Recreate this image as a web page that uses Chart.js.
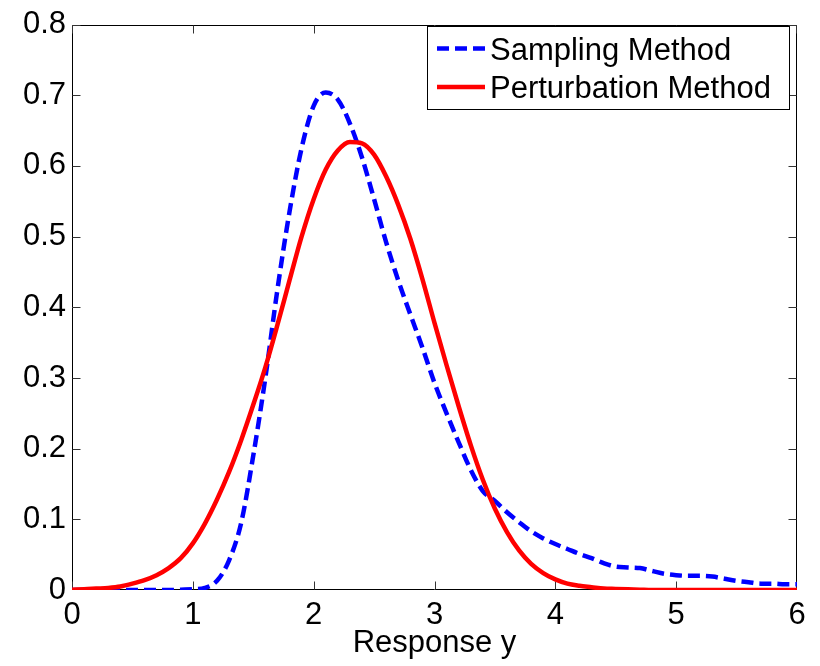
<!DOCTYPE html>
<html><head><meta charset="utf-8">
<script src="https://cdn.jsdelivr.net/npm/chart.js@4/dist/chart.umd.min.js"></script>
<style>html,body{margin:0;padding:0;background:#fff;}#wrap{width:820px;height:666px;}</style>
</head><body><div id="wrap"><canvas id="c" width="820" height="666"></canvas></div>
<script>
const xValues = [0.0,0.1,0.2,0.3,0.4,0.5,0.6,0.7,0.8,0.9,
  1.0,1.1,1.2,1.3,1.4,1.5,1.6,1.7,1.8,1.9,
  2.0,2.1,2.2,2.3,2.4,2.5,2.6,2.7,2.8,2.9,
  3.0,3.1,3.2,3.3,3.4,3.5,3.6,3.7,3.8,3.9,
  4.0,4.1,4.2,4.3,4.4,4.5,4.6,4.7,4.8,4.9,
  5.0,5.1,5.2,5.3,5.4,5.5,5.6,5.7,5.8,5.9,6.0];
const samplingMethod = [0,0,0,0,0,0,0,0,0,0.0005,
  0.001,0.003,0.013,0.042,0.095,0.19,0.30,0.425,0.535,0.625,
  0.685,0.704,0.694,0.66,0.612,0.553,0.492,0.438,0.39,0.343,
  0.293,0.25,0.209,0.17,0.14,0.126,0.11,0.096,0.083,0.073,
  0.065,0.058,0.051,0.045,0.038,0.033,0.032,0.031,0.027,0.023,
  0.021,0.02,0.02,0.019,0.016,0.013,0.011,0.009,0.009,0.008,0.008];
const perturbationMethod = [0.0005,0.001,0.002,0.003,0.005,0.009,0.014,0.021,0.031,0.045,
  0.066,0.094,0.128,0.167,0.212,0.262,0.315,0.375,0.438,0.5,
  0.553,0.595,0.622,0.634,0.632,0.616,0.585,0.545,0.497,0.44,
  0.378,0.318,0.26,0.205,0.156,0.115,0.082,0.056,0.037,0.024,
  0.015,0.009,0.006,0.004,0.002,0.0015,0.001,0.0005,0,0,
  0,0,0,0,0,0,0,0,0,0,0];
const xTicks = [0,1,2,3,4,5,6];
const xTickLabels = ['0','1','2','3','4','5','6'];
const yTicks = [0,0.1,0.2,0.3,0.4,0.5,0.6,0.7,0.8];
const yTickLabels = ['0','0.1','0.2','0.3','0.4','0.5','0.6','0.7','0.8'];
const seriesNames = ['Sampling Method','Perturbation Method'];
const xTitle = 'Response y';

const FONT = '"Liberation Sans", Arial, Helvetica, sans-serif';
const FS = 31;

const framePlugin = {
  id: 'frame',
  beforeDatasetsDraw(chart) {
    const {ctx, chartArea: a, scales} = chart;
    ctx.save();
    ctx.strokeStyle = '#000';
    ctx.lineWidth = 1;
    const L = Math.round(a.left) + 0.5, R = Math.round(a.right) - 0.5;
    const T = Math.round(a.top) + 0.5, B = Math.round(a.bottom) - 0.5;
    ctx.beginPath();
    ctx.rect(L, T, R - L, B - T);
    ctx.stroke();
    ctx.strokeStyle = '#333';
    const tl = 8;
    ctx.beginPath();
    xTicks.forEach(v => {
      const px = Math.min(R, Math.max(L, Math.round(scales.x.getPixelForValue(v)) + 0.5));
      ctx.moveTo(px, B); ctx.lineTo(px, B - tl);
      ctx.moveTo(px, T); ctx.lineTo(px, T + tl);
    });
    yTicks.forEach(v => {
      const py = Math.min(B, Math.max(T, Math.round(scales.y.getPixelForValue(v)) + 0.5));
      ctx.moveTo(L, py); ctx.lineTo(L + tl, py);
      ctx.moveTo(R, py); ctx.lineTo(R - tl, py);
    });
    ctx.stroke();
    ctx.restore();
  },
  afterDraw(chart) {
    const {ctx} = chart;
    ctx.save();
    const bx = 427.5, by = 26.5, bw = 362, bh = 83;
    ctx.fillStyle = '#fff';
    ctx.fillRect(bx, by, bw, bh);
    ctx.strokeStyle = '#000';
    ctx.lineWidth = 1;
    ctx.strokeRect(bx, by, bw, bh);
    const ds = chart.data.datasets;
    const rows = [{i: 1, y: 48.5, base: 59.5}, {i: 0, y: 87, base: 97.5}];
    rows.forEach(r => {
      const d = ds[r.i];
      ctx.beginPath();
      ctx.strokeStyle = d.borderColor;
      ctx.lineWidth = d.borderWidth;
      ctx.setLineDash(d.borderDash || []);
      ctx.moveTo(437, r.y); ctx.lineTo(485, r.y);
      ctx.stroke();
      ctx.setLineDash([]);
      ctx.fillStyle = '#000';
      ctx.font = FS + 'px ' + FONT;
      ctx.textBaseline = 'alphabetic';
      ctx.textAlign = 'left';
      ctx.fillText(d.label, 490, r.base);
    });
    ctx.restore();
  }
};

const pts = arr => xValues.map((x, i) => ({x, y: arr[i]}));

new Chart(document.getElementById('c'), {
  type: 'line',
  data: {
    datasets: [
      {label: seriesNames[1], data: pts(perturbationMethod), borderColor: '#ff0000', borderWidth: 4.5,
       pointRadius: 0, cubicInterpolationMode: 'monotone', fill: false, order: 0},
      {label: seriesNames[0], data: pts(samplingMethod), borderColor: '#0000ff', borderWidth: 4.5,
       borderDash: [12, 6], pointRadius: 0, cubicInterpolationMode: 'monotone', fill: false, order: 1}
    ]
  },
  options: {
    responsive: false,
    animation: false,
    devicePixelRatio: 1,
    layout: {padding: {left: 0, right: 23, top: 18, bottom: 0}},
    plugins: {legend: {display: false}, tooltip: {enabled: false}},
    scales: {
      x: {
        type: 'linear', min: 0, max: 6,
        afterBuildTicks: s => { s.ticks = xTicks.map(v => ({value: v})); },
        afterFit: s => { s.height = 76; },
        ticks: {callback: (v) => xTickLabels[xTicks.indexOf(v)], color: '#000', padding: 7,
                font: {family: FONT, size: FS}, maxRotation: 0, autoSkip: false},
        grid: {display: false, drawTicks: false},
        border: {display: false},
        title: {display: true, text: xTitle, color: '#000', font: {family: FONT, size: FS},
                padding: {top: 0, bottom: 4}}
      },
      y: {
        type: 'linear', min: 0, max: 0.8,
        afterBuildTicks: s => { s.ticks = yTicks.map(v => ({value: v})); },
        afterFit: s => { s.width = 72; },
        ticks: {callback: (v) => yTickLabels[yTicks.indexOf(v)], color: '#000', padding: 6,
                font: {family: FONT, size: FS}, autoSkip: false},
        grid: {display: false, drawTicks: false},
        border: {display: false}
      }
    }
  },
  plugins: [framePlugin]
});
</script>
</body></html>
